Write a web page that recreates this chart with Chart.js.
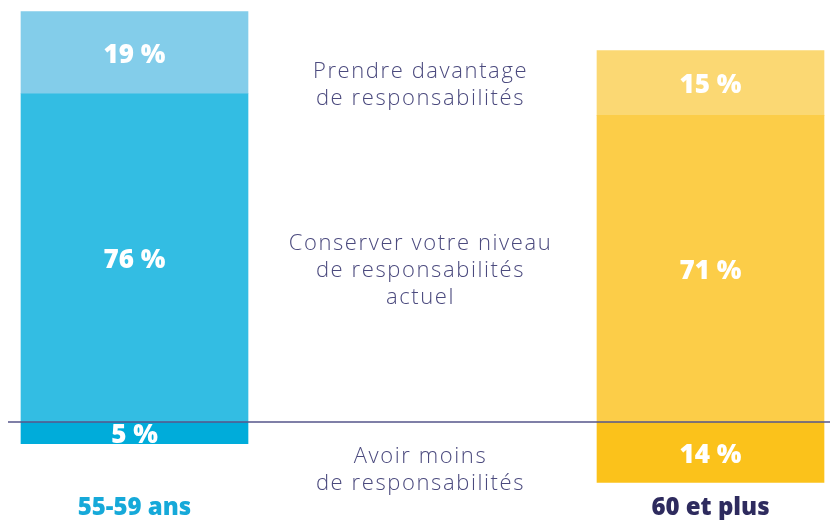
<!DOCTYPE html>
<html>
<head>
<meta charset="utf-8">
<script src="https://cdn.jsdelivr.net/npm/chart.js@4/dist/chart.umd.min.js"></script>
<style>
  body { margin: 0; background: #fff; }
  #wrap { width: 830px; height: 520px; }
</style>
</head>
<body>
<div id="wrap"><canvas id="respChart"></canvas></div>
<script>
// age groups
var categories = ['55-59 ans', '60 et plus'];
// answers in %, "moins" goes below the zero line
var conserver = [76, 71];
var prendre = [19, 15];
var moins = [5, 14];
var seriesNames = [
	['Conserver votre niveau', 'de responsabilités', 'actuel'],
	['Prendre davantage', 'de responsabilités'],
	['Avoir moins', 'de responsabilités']
];

var catColors = ['#16a9d9', '#2e2b5e'];

var overlay = {
	id: 'overlay',
	afterDatasetsDraw: function(chart) {
		var ctx = chart.ctx;
		var y0 = chart.scales.y.getPixelForValue(0);

		// zero line
		ctx.save();
		ctx.strokeStyle = '#55558a';
		ctx.lineWidth = 1.5;
		ctx.beginPath();
		ctx.moveTo(8, y0);
		ctx.lineTo(chart.width, y0);
		ctx.stroke();
		ctx.restore();

		// values inside the bars
		chart.data.datasets.forEach(function(ds, di) {
			chart.getDatasetMeta(di).data.forEach(function(bar, i) {
				var top = Math.min(bar.y, bar.base);
				var bottom = Math.max(bar.y, bar.base);
				ctx.save();
				ctx.beginPath();
				ctx.rect(bar.x - bar.width / 2, top, bar.width, bottom - top);
				ctx.clip();
				ctx.fillStyle = '#ffffff';
				ctx.font = '800 26px "Open Sans"';
				ctx.textAlign = 'center';
				ctx.textBaseline = 'middle';
				ctx.fillText(Math.abs(ds.data[i]) + ' %', bar.x, (top + bottom) / 2 + 3);
				ctx.restore();
			});
		});

		// series names between the two bars
		var left = chart.getDatasetMeta(0).data[0];
		var right = chart.getDatasetMeta(0).data[1];
		var cx = ((left.x + left.width / 2) + (right.x - right.width / 2)) / 2 - 2;
		ctx.save();
		ctx.fillStyle = '#4b4a7e';
		ctx.font = '300 22px "Open Sans"';
		ctx.letterSpacing = '1.6px';
		ctx.textAlign = 'center';
		ctx.textBaseline = 'middle';
		chart.data.datasets.forEach(function(ds, di) {
			var bar = chart.getDatasetMeta(di).data[1];
			var mid = (bar.y + bar.base) / 2 + 2;
			if (ds.data[1] < 0) mid += 16;
			var lines = ds.label;
			var lh = 27;
			lines.forEach(function(t, k) {
				ctx.fillText(t, cx, mid + (k - (lines.length - 1) / 2) * lh);
			});
		});
		ctx.restore();

		// age group labels
		ctx.save();
		ctx.font = '800 24px "Open Sans"';
		ctx.textAlign = 'center';
		ctx.textBaseline = 'middle';
		chart.data.labels.forEach(function(lab, i) {
			ctx.fillStyle = catColors[i];
			ctx.fillText(lab, chart.scales.x.getPixelForValue(i), 508);
		});
		ctx.restore();
	}
};

var ctx = document.getElementById('respChart');
var respChart = new Chart(ctx, {
	type: 'bar',
	data: {
		labels: categories,
		datasets: [{
			label: seriesNames[0],
			data: conserver,
			backgroundColor: ['#33bde3', '#fccd48'],
			stack: 's'
		}, {
			label: seriesNames[1],
			data: prendre,
			backgroundColor: ['#83cdea', '#fbd873'],
			stack: 's'
		}, {
			label: seriesNames[2],
			data: moins.map(function(v) { return -v; }),
			backgroundColor: ['#00acda', '#fbc21b'],
			stack: 's'
		}]
	},
	options: {
		responsive: true,
		maintainAspectRatio: false,
		animation: false,
		layout: { padding: { left: 134.5, right: 119.5, top: 0, bottom: 11.6 } },
		datasets: { bar: { barThickness: 227, clip: false } },
		plugins: {
			legend: { display: false },
			tooltip: { enabled: false }
		},
		scales: {
			x: { stacked: true, offset: false, display: false },
			y: { stacked: true, min: -20, max: 97.7, display: false }
		}
	},
	plugins: [overlay]
});
</script>
</body>
</html>
